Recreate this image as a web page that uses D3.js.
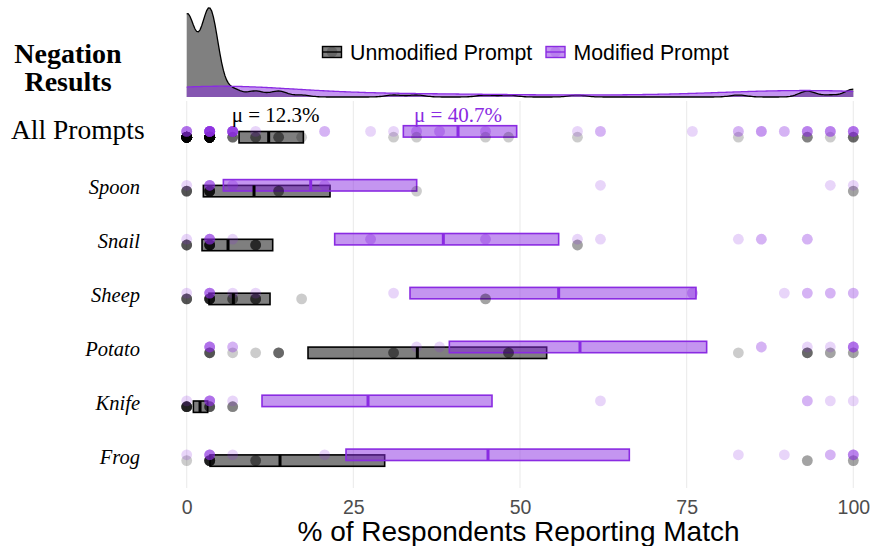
<!DOCTYPE html>
<html>
<head>
<meta charset="utf-8">
<script src="https://cdn.jsdelivr.net/npm/d3@7"></script>
<style>
  body { margin: 0; background: #fff; }
  svg { display: block; }
</style>
</head>
<body>
<svg id="chart" width="873" height="546"></svg>
<script>
// Rows of the figure, top to bottom
const rows = ["All Prompts", "Spoon", "Snail", "Sheep", "Potato", "Knife", "Frog"];
const respondents = 29;

// Number of respondents (out of 29) reporting a match, one entry per generated image
const allUnmod = [0,0,0,0,0,0,0,0,0,0,0,0,0,0,0,0,0,0,0,0,0,0,0,0,0,0,0,0,0,0,0,0,0,0,0,0,0,0,0,0,0,0,
                  1,1,1,1,1,1,1,1,1,1,1,1,1,1,1,1,1,1,1,1,1,1,1,1,1,1,1,1,1,1,1,1,1,1,1,1,1,1,1,1,1,1,1,1,1,
                  2,2,2,2, 3,3,3, 4,4,4, 5, 9, 10, 13, 14, 17, 24, 27,27,27, 28, 29,29,29,29];
const allMod   = [0,0,0,0,0, 1,1,1,1,1,1,1,1,1,1,1,1,1,1, 2,2,2,2,2,2,2,2,2,2, 3, 6,6, 8, 9, 10,10, 11,11,
                  13,13, 17, 18,18, 22, 24,24, 25,25,25, 26,26, 27,27,27,27, 28,28,28,28, 29,29,29,29,29];
const spoonUnmod  = [0,0,0,0,0, 1,1,1,1,1,1,1,1,1, 4,4,4, 10, 29,29];
const spoonMod    = [0, 1,1,1,1,1, 2,2, 6,6, 18, 28, 29];
const snailUnmod  = [0,0,0,0,0, 1,1,1,1,1,1,1,1,1, 3,3,3,3,3, 17,17];
const snailMod    = [0, 1,1,1,1,1, 2, 8,8, 13,13, 17, 18, 24, 25,25, 27,27];
const sheepUnmod  = [0,0,0,0,0, 1,1,1,1,1,1,1,1,1, 2,2,2, 3,3,3,3,3, 5, 13,13];
const sheepMod    = [0, 1,1,1,1,1, 2, 3, 9, 22,22, 26, 27,27, 28,28, 29,29];
const potatoUnmod = [1,1,1,1,1, 2, 3, 4,4,4,4, 9,9,9, 14,14,14, 24, 27,27,27,27, 28,28, 29,29];
const potatoMod   = [1,1,1,1,1, 2,2, 10, 11, 25,25, 27, 28, 29,29,29,29,29];
const knifeUnmod  = [0,0,0,0,0,0,0,0,0, 1,1,1,1,1, 2,2,2];
const knifeMod    = [0, 1,1,1,1,1, 2, 18, 27,27, 28, 29];
const frogUnmod   = [0, 1,1,1,1,1,1,1,1,1, 3,3,3, 27,27, 29,29];
const frogMod     = [0, 1,1,1,1,1, 2, 6, 24, 26, 28,28, 29,29,29,29];

const unmodValues = [allUnmod, spoonUnmod, snailUnmod, sheepUnmod, potatoUnmod, knifeUnmod, frogUnmod];
const modValues   = [allMod, spoonMod, snailMod, sheepMod, potatoMod, knifeMod, frogMod];

// Mean (%) and interval bounds (%) per row
const unmodMean = [12.3, 10.1, 6.2, 7.0, 34.6, 2.0, 14.0];
const unmodLo   = [7.85, 2.5, 2.3, 3.35, 18.2, 1.0, 3.5];
const unmodHi   = [17.5, 21.5, 12.9, 12.5, 54.0, 3.15, 29.7];
const modMean   = [40.7, 18.6, 38.5, 55.8, 59.0, 27.2, 45.2];
const modLo     = [32.5, 5.5, 22.2, 33.5, 39.4, 11.3, 23.9];
const modHi     = [49.5, 34.5, 55.8, 76.4, 78.0, 45.8, 66.4];

const xTicks = [0, 25, 50, 75, 100];
const legendLabels = ["Unmodified Prompt", "Modified Prompt"];

const PURPLE = "#8a2be2";
const GRAY_FILL = "rgba(0,0,0,0.5)";
const PURPLE_FILL = "rgba(138,43,226,0.5)";
const SERIF = "'Liberation Serif', 'Times New Roman', serif";
const SANS = "'Liberation Sans', Arial, sans-serif";

const pct = k => k / respondents * 100;

const svg = d3.select("#chart");
const x = d3.scaleLinear().domain([0, 100]).range([186.7, 853.3]);
const y = d3.scalePoint().domain(rows).range([134.3, 457.7]);
const OFF = 2.9;   // vertical split between the two prompt types within a row
const BOX_H = 11.4;

// Vertical grid
svg.append("g").selectAll("line").data(xTicks).join("line")
  .attr("x1", d => x(d)).attr("x2", d => x(d))
  .attr("y1", 101).attr("y2", 488)
  .attr("stroke", "#ebebeb").attr("stroke-width", 1.1);

// Marginal densities (Gaussian kernel) of the all-prompt values
function kde(values, bw) {
  const grid = d3.range(0, 100.001, 0.25);
  const g = u => Math.exp(-0.5 * u * u) / Math.sqrt(2 * Math.PI);
  return grid.map(p => [p, d3.mean(values, v => g((p - pct(v)) / bw)) / bw]);
}
const densU = kde(allUnmod, 1.25);
const densM = kde(allMod, 12);
const yD = d3.scaleLinear().domain([0, d3.max(densU, d => d[1])]).range([97, 8]);
const area = d3.area().x(d => x(d[0])).y0(yD(0)).y1(d => yD(d[1]));
const line = d3.line().x(d => x(d[0])).y(d => yD(d[1]));

const dg = svg.append("g");
dg.append("path").datum(densU).attr("d", area).attr("fill", "#808080");
dg.append("path").datum(densM).attr("d", area).attr("fill", PURPLE_FILL);
dg.append("path").datum(densU).attr("d", line).attr("fill", "none").attr("stroke", "#000").attr("stroke-width", 1.3);
dg.append("path").datum(densM).attr("d", line).attr("fill", "none").attr("stroke", PURPLE).attr("stroke-width", 1.3);

// Interval boxes
const boxes = svg.append("g");
rows.forEach((r, i) => {
  const cy = y(r);
  boxes.append("rect")
    .attr("x", x(unmodLo[i])).attr("width", x(unmodHi[i]) - x(unmodLo[i]))
    .attr("y", cy + OFF - BOX_H / 2).attr("height", BOX_H)
    .attr("fill", GRAY_FILL).attr("stroke", "#000").attr("stroke-width", 1.6);
  boxes.append("rect")
    .attr("x", x(modLo[i])).attr("width", x(modHi[i]) - x(modLo[i]))
    .attr("y", cy - OFF - BOX_H / 2).attr("height", BOX_H)
    .attr("fill", PURPLE_FILL).attr("stroke", PURPLE).attr("stroke-width", 1.6);
});

// Per-image points
const pts = svg.append("g");
rows.forEach((r, i) => {
  const cy = y(r);
  pts.append("g").selectAll("circle").data(unmodValues[i]).join("circle")
    .attr("cx", d => x(pct(d))).attr("cy", cy + OFF).attr("r", 5.4)
    .attr("fill", "#000").attr("fill-opacity", 0.2);
  pts.append("g").selectAll("circle").data(modValues[i]).join("circle")
    .attr("cx", d => x(pct(d))).attr("cy", cy - OFF).attr("r", 5.4)
    .attr("fill", PURPLE).attr("fill-opacity", 0.2);
});

// Mean markers
const means = svg.append("g");
rows.forEach((r, i) => {
  const cy = y(r);
  means.append("line")
    .attr("x1", x(unmodMean[i])).attr("x2", x(unmodMean[i]))
    .attr("y1", cy + OFF - BOX_H / 2).attr("y2", cy + OFF + BOX_H / 2)
    .attr("stroke", "#000").attr("stroke-width", 3);
  means.append("line")
    .attr("x1", x(modMean[i])).attr("x2", x(modMean[i]))
    .attr("y1", cy - OFF - BOX_H / 2).attr("y2", cy - OFF + BOX_H / 2)
    .attr("stroke", PURPLE).attr("stroke-width", 3);
});

// Mean labels on the aggregate row
svg.append("text").attr("x", x(unmodMean[0]) + 7).attr("y", 121.5)
  .attr("text-anchor", "middle")
  .style("font-family", SERIF).style("font-size", "21px")
  .attr("fill", "#000").text(`μ = ${unmodMean[0]}%`);
svg.append("text").attr("x", x(modMean[0])).attr("y", 121.5)
  .attr("text-anchor", "middle")
  .style("font-family", SERIF).style("font-size", "21px")
  .attr("fill", PURPLE).text(`μ = ${modMean[0]}%`);

// Row labels
svg.append("text").attr("x", 11).attr("y", y(rows[0]) + 5)
  .style("font-family", SERIF).style("font-size", "27.5px")
  .text(rows[0]);
svg.append("g").selectAll("text").data(rows.slice(1)).join("text")
  .attr("x", 140).attr("y", d => y(d) + 6).attr("text-anchor", "end")
  .style("font-family", SERIF).style("font-size", "20.5px")
  .style("font-style", "italic").text(d => d);

// Title
const title = svg.append("text").attr("text-anchor", "middle")
  .style("font-family", SERIF).style("font-size", "28px")
  .style("font-weight", "bold");
title.append("tspan").attr("x", 68).attr("y", 62.5).text("Negation");
title.append("tspan").attr("x", 68).attr("y", 90.5).text("Results");

// x axis
const axis = svg.append("g").attr("transform", "translate(0,489)")
  .call(d3.axisBottom(x).tickValues(xTicks).tickSize(0).tickPadding(11).tickFormat(d3.format("d")));
axis.select(".domain").remove();
axis.selectAll("text").style("font-family", SANS)
  .style("font-size", "19.5px").attr("fill", "#4d4d4d");
svg.append("text").attr("x", x(50) - 1.5).attr("y", 541).attr("text-anchor", "middle")
  .style("font-family", SANS).style("font-size", "28px")
  .text("% of Respondents Reporting Match");

// Legend
const legendKeys = [
  { x: 322.5, fill: GRAY_FILL, stroke: "#000", dot: "rgba(0,0,0,0.2)" },
  { x: 546, fill: PURPLE_FILL, stroke: PURPLE, dot: "rgba(138,43,226,0.2)" }
];
const lg = svg.append("g");
legendKeys.forEach((k, i) => {
  lg.append("circle").attr("cx", k.x + 9.5).attr("cy", 52).attr("r", 5.4).attr("fill", k.dot);
  lg.append("rect").attr("x", k.x).attr("y", 46.5).attr("width", 19).attr("height", 11)
    .attr("fill", k.fill).attr("stroke", k.stroke).attr("stroke-width", 1.4);
  lg.append("line").attr("x1", k.x).attr("x2", k.x + 19).attr("y1", 52).attr("y2", 52)
    .attr("stroke", k.stroke).attr("stroke-width", 1.4);
  lg.append("text").attr("x", k.x + 27.5).attr("y", 60)
    .style("font-family", SANS).style("font-size", "21.3px")
    .text(legendLabels[i]);
});
</script>
</body>
</html>
